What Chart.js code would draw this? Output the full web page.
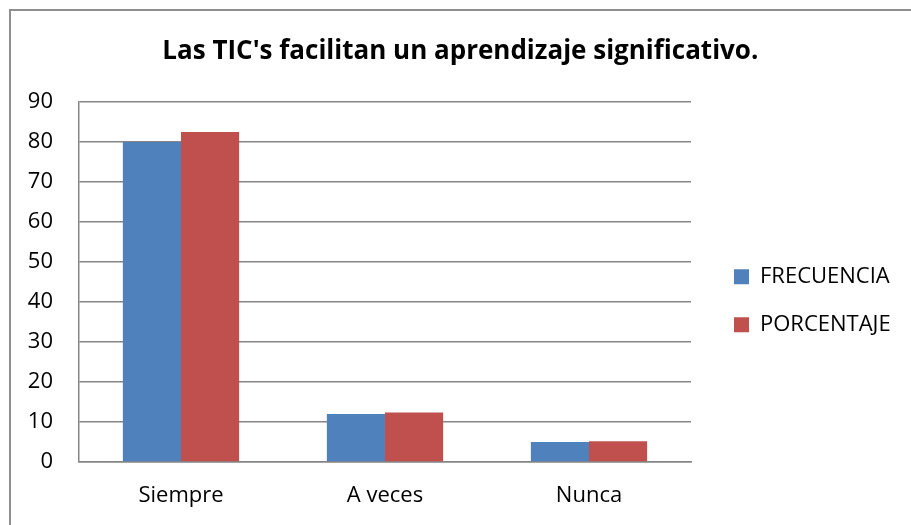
<!DOCTYPE html>
<html><head><meta charset="utf-8">
<script src="https://cdn.jsdelivr.net/npm/chart.js@4.4.1/dist/chart.umd.min.js"></script>
<style>
html,body{margin:0;padding:0;overflow:hidden;background:#fff;width:911px;height:525px;}
#frame{position:absolute;left:9px;top:9px;width:1200px;height:800px;border:2px solid #8f8f8f;}
#wrap{position:absolute;left:0;top:0;width:911px;height:525px;}
</style></head><body>
<div id="frame"></div>
<div id="wrap"><canvas id="c" width="911" height="525"></canvas></div>
<script>
const titleText = "Las TIC's facilitan un aprendizaje significativo.";
const categories = ['Siempre', 'A veces', 'Nunca'];
const seriesNames = ['FRECUENCIA', 'PORCENTAJE'];
const frecuencia = [80, 12, 5];
const porcentaje = [82.5, 12.4, 5.2];
const yTicks = [0, 10, 20, 30, 40, 50, 60, 70, 80, 90];

const FONT = '"Open Sans", "Noto Sans", sans-serif';
const legendFontSize = 22;
const mctx = document.createElement('canvas').getContext('2d');
mctx.font = legendFontSize + 'px ' + FONT;
const legendTextW = Math.max(...seriesNames.map(n => mctx.measureText(n).width));
const legendPad = 26, boxW = 15;
const legendLeft = 708;
const legendWidth = legendPad + boxW + legendFontSize / 2 + legendTextW;
const rightPad = Math.max(0, 911 - legendLeft - legendWidth - 10);

new Chart(document.getElementById('c'), {
  type: 'bar',
  data: {
    labels: categories,
    datasets: [
      { label: seriesNames[0], data: frecuencia, backgroundColor: '#4F81BD', borderWidth: 0 },
      { label: seriesNames[1], data: porcentaje, backgroundColor: '#C0504D', borderWidth: 0 }
    ]
  },
  options: {
    responsive: false,
    animation: false,
    layout: { padding: { left: 20, top: 0, right: rightPad, bottom: 15.6 } },
    datasets: { bar: { categoryPercentage: 0.57, barPercentage: 1.0 } },
    scales: {
      x: {
        afterFit: s => { s.height = 47.4; },
        grid: { display: false, drawTicks: false },
        border: { display: true, color: '#868686', width: 1.5 },
        ticks: { color: '#000', font: { family: FONT, size: 22 }, padding: 21 }
      },
      y: {
        min: 0, max: 90,
        afterBuildTicks: s => { s.ticks = yTicks.map(v => ({ value: v })); },
        afterFit: s => { s.width = 59; },
        grid: { color: '#868686', lineWidth: 1.5, drawTicks: false },
        border: { display: true, color: '#868686', width: 1.5 },
        ticks: { color: '#000', font: { family: FONT, size: 22 }, padding: 26 }
      },
      y2: {
        position: 'right', display: true,
        grid: { display: false, drawTicks: false },
        border: { display: false },
        ticks: { display: false },
        afterFit: s => { s.width = legendLeft - 691; }
      }
    },
    plugins: {
      title: {
        display: true, text: titleText, color: '#000',
        font: { family: FONT, size: 26, weight: 'bold' },
        padding: { top: 36.4, bottom: 34.4 }
      },
      legend: {
        position: 'right', fullSize: false, maxWidth: 400,
        title: { display: true, text: '', font: { size: 10 }, padding: { top: 25.4, bottom: 0 } },
        labels: {
          color: '#000', font: { family: FONT, size: legendFontSize },
          boxWidth: boxW, boxHeight: 15, padding: legendPad
        }
      },
      tooltip: { enabled: false }
    }
  }
});
</script>
</body></html>
